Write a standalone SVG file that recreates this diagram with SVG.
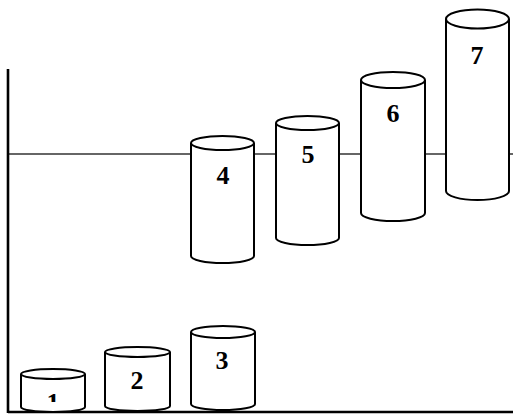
<svg xmlns="http://www.w3.org/2000/svg" width="513" height="418" viewBox="0 0 513 418">
  <style>
    .cyl { fill: #ffffff; stroke: #000000; stroke-width: 2; }
    .lbl { font-family: "Liberation Serif", "Times New Roman", serif; font-weight: bold; font-size: 26px; fill: #000000; text-anchor: middle; }
    .axis { stroke: #000000; stroke-width: 2.6; fill: none; }
    .level { stroke: #333333; stroke-width: 1.6; fill: none; }
  </style>
  <defs>
    <clipPath id="clip1"><rect x="21" y="380" width="64" height="22"/></clipPath>
  </defs>
  <rect width="513" height="418" fill="#ffffff"/>

  <g id="connectors">
    <line class="level" x1="8" y1="154" x2="513" y2="154"/>
    <line class="axis" x1="8" y1="69" x2="8" y2="413"/>
    <line class="axis" x1="8" y1="412" x2="513" y2="412"/>
  </g>

  <g id="node1">
    <path class="cyl" d="M21,374 L21,407 A32,5 0 0 0 85,407 L85,374"/>
    <ellipse class="cyl" cx="53" cy="374" rx="32" ry="5"/>
    <text class="lbl" x="53" y="411" clip-path="url(#clip1)">1</text>
  </g>

  <g id="node2">
    <path class="cyl" d="M105,352 L105,406 A32.5,5 0 0 0 170,406 L170,352"/>
    <ellipse class="cyl" cx="137.5" cy="352" rx="32.5" ry="5"/>
    <text class="lbl" x="137" y="389">2</text>
  </g>

  <g id="node3">
    <path class="cyl" d="M191,332 L191,404 A32,6 0 0 0 255,404 L255,332"/>
    <ellipse class="cyl" cx="223" cy="332" rx="32" ry="6"/>
    <text class="lbl" x="222" y="369">3</text>
  </g>

  <g id="node4">
    <path class="cyl" d="M191,143 L191,256 A31.5,7 0 0 0 254,256 L254,143"/>
    <ellipse class="cyl" cx="222.5" cy="143" rx="31.5" ry="7"/>
    <text class="lbl" x="223" y="184">4</text>
  </g>

  <g id="node5">
    <path class="cyl" d="M276,123 L276,238 A31.5,7 0 0 0 339,238 L339,123"/>
    <ellipse class="cyl" cx="307.5" cy="123" rx="31.5" ry="7"/>
    <text class="lbl" x="308" y="163">5</text>
  </g>

  <g id="node6">
    <path class="cyl" d="M361,80 L361,213 A32,8 0 0 0 425,213 L425,80"/>
    <ellipse class="cyl" cx="393" cy="80" rx="32" ry="8"/>
    <text class="lbl" x="393" y="122">6</text>
  </g>

  <g id="node7">
    <path class="cyl" d="M446,19 L446,191 A31.5,9 0 0 0 509,191 L509,19"/>
    <ellipse class="cyl" cx="477.5" cy="19" rx="31.5" ry="9.5"/>
    <text class="lbl" x="477" y="64">7</text>
  </g>
</svg>
